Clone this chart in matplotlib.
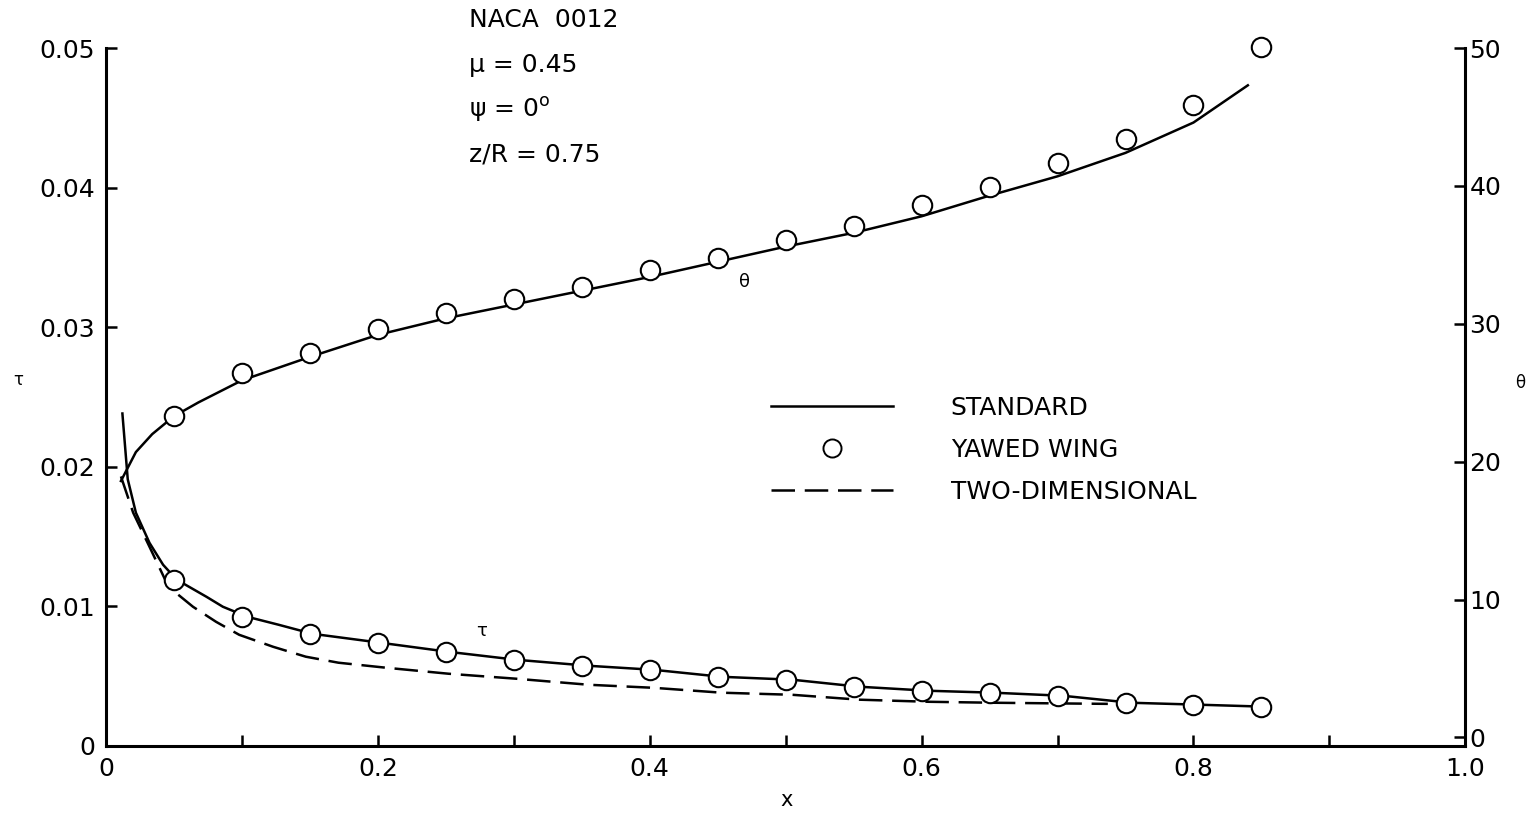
import numpy as np
import matplotlib
matplotlib.use("Agg")
import matplotlib.pyplot as plt
from matplotlib.lines import Line2D

# ---- data ----
# yawed wing points (circles)
x_pts = [0.05, 0.10, 0.15, 0.20, 0.25, 0.30, 0.35, 0.40, 0.45, 0.50,
         0.55, 0.60, 0.65, 0.70, 0.75, 0.80, 0.85]
tau_pts = [0.0119, 0.00924, 0.00802, 0.00738, 0.00673, 0.00616, 0.00573, 0.00544, 0.00494,
           0.00473, 0.00423, 0.00394, 0.0038, 0.00358, 0.00308, 0.00294, 0.0028]
theta_pts = [23.3, 26.4, 27.9, 29.6, 30.8, 31.8, 32.7, 33.9, 34.8, 36.1,
             37.1, 38.6, 39.9, 41.7, 43.4, 45.9, 50.1]

# standard (solid) tau curve
x_tau_std = [0.012, 0.016, 0.022, 0.032, 0.042, 0.052, 0.074, 0.086, 0.104, 0.127, 0.152,
             0.202, 0.252, 0.302, 0.355, 0.403, 0.453, 0.505, 0.554, 0.605, 0.653,
             0.704, 0.754, 0.804, 0.852]
tau_std = [0.0239, 0.0191, 0.0167, 0.01454, 0.01297, 0.0119, 0.01067, 0.00996, 0.00924,
           0.00867, 0.00802, 0.00738, 0.00673, 0.00616, 0.00573, 0.00544, 0.00494,
           0.00473, 0.00423, 0.00394, 0.0038, 0.00358, 0.00308, 0.00294, 0.0028]

# two-dimensional (dashed) tau curve
x_tau_2d = [0.011, 0.020, 0.032, 0.046, 0.064, 0.081, 0.098, 0.123, 0.147, 0.171,
            0.206, 0.252, 0.302, 0.355, 0.403, 0.453, 0.505, 0.554, 0.605, 0.653,
            0.704, 0.737]
tau_2d = [0.0193, 0.0167, 0.01426, 0.01139, 0.00996, 0.00888, 0.00795, 0.00709, 0.00638,
          0.00595, 0.00559, 0.00516, 0.0048, 0.00437, 0.00415, 0.0038, 0.00365, 0.0033,
          0.00315, 0.00308, 0.00303, 0.0030]

# standard (solid) theta curve
x_th_std = [0.011, 0.022, 0.034, 0.05, 0.068, 0.10, 0.15, 0.20, 0.25, 0.30, 0.35,
            0.40, 0.45, 0.50, 0.55, 0.60, 0.65, 0.70, 0.75, 0.80, 0.84]
theta_std = [18.6, 20.7, 22.0, 23.3, 24.3, 25.9, 27.6, 29.2, 30.4, 31.4, 32.4,
             33.4, 34.5, 35.6, 36.6, 37.8, 39.3, 40.7, 42.4, 44.6, 47.3]

x_ticks = [0, 0.2, 0.4, 0.6, 0.8, 1.0]
x_ticklabels = ["0", "0.2", "0.4", "0.6", "0.8", "1.0"]
tau_ticks = [0, 0.01, 0.02, 0.03, 0.04, 0.05]
tau_ticklabels = ["0", "0.01", "0.02", "0.03", "0.04", "0.05"]
theta_ticks = [0, 10, 20, 30, 40, 50]

plt.rcParams['font.family'] = ['DejaVu Sans']
fs = 18
lw = 1.8

fig = plt.figure(figsize=(15.36, 8.15), dpi=100)
ax = fig.add_axes([0.069, 0.085, 0.885, 0.856])
ax2 = ax.twinx()

ax.plot(x_tau_std, tau_std, color='black', lw=lw, solid_capstyle='butt')
ax.plot(x_tau_2d, tau_2d, color='black', lw=lw, dashes=(9.4, 3.9))
ax.plot(x_pts, tau_pts, 'o', ms=14, mfc='white', mec='black', mew=1.5)

ax2.plot(x_th_std, theta_std, color='black', lw=lw)
ax2.plot(x_pts, theta_pts, 'o', ms=14, mfc='white', mec='black', mew=1.5, clip_on=False)

ax.set_xlim(0, 1.0)
ax.set_ylim(0, 0.05)
ax2.set_ylim(-0.6, 50)

ax.set_xticks(x_ticks)
ax.set_xticklabels(x_ticklabels)
ax.set_xticks([0.1, 0.3, 0.5, 0.7, 0.9], minor=True)
ax.set_yticks(tau_ticks)
ax.set_yticklabels(tau_ticklabels)
ax2.set_yticks(theta_ticks)

ax.tick_params(axis='both', which='both', direction='in', length=8, width=1.8,
               labelsize=fs)
ax.tick_params(axis='x', pad=8)
ax.tick_params(axis='y', pad=8)
ax2.tick_params(axis='y', direction='in', length=8, width=1.8, labelsize=fs, pad=3)

for a in (ax, ax2):
    a.spines['top'].set_visible(False)
ax.spines['right'].set_visible(False)
ax2.spines['left'].set_visible(False)
ax2.spines['bottom'].set_visible(False)
ax.spines['left'].set_linewidth(2.2)
ax.spines['bottom'].set_linewidth(2.2)
ax2.spines['right'].set_linewidth(2.2)

# axis labels
fig.text(18 / 1536, 1 - 380 / 815, "τ", fontsize=12, ha='center', va='center')
fig.text(1520 / 1536, 1 - 383 / 815, "θ", fontsize=12, ha='center', va='center')
fig.text(787 / 1536, 1 - 800 / 815, "x", fontsize=15, ha='center', va='center')

# parameter block
params = ["NACA  0012", "μ = 0.45", "ψ = 0$^{\\mathrm{o}}$", "z/R = 0.75"]
for i, s in enumerate(params):
    fig.text(469 / 1536, 1 - (20 + 45 * i) / 815, s, fontsize=fs, ha='left', va='center')

# curve labels
ax2.annotate("θ", xy=(0.47, 33.0), fontsize=13, ha='center', va='center')
ax.annotate("τ", xy=(0.276, 0.0082), fontsize=13, ha='center', va='center')

handles = [Line2D([], [], color='black', lw=lw),
           Line2D([], [], ls='none', marker='o', ms=13, mfc='white', mec='black', mew=1.4),
           Line2D([], [], color='black', lw=lw, dashes=(9.4, 3.9))]
labels = ["STANDARD", "YAWED WING", "TWO-DIMENSIONAL"]
ax.legend(handles, labels, loc='upper left', bbox_to_anchor=(0.489, 0.502),
          frameon=False, fontsize=fs, handlelength=4.9, handletextpad=2.3,
          labelspacing=0.72, borderpad=0, borderaxespad=0, numpoints=1)

fig.savefig("out.png", dpi=100)
